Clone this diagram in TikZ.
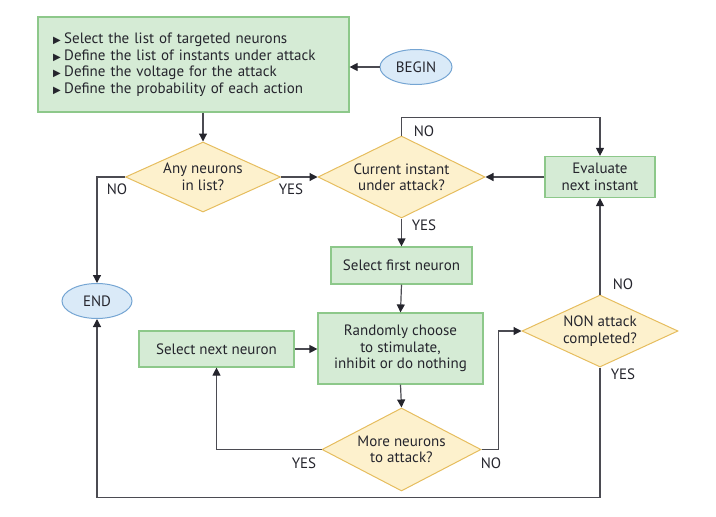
\documentclass[tikz,border=0pt]{standalone}
\usepackage{fontspec}
\setmainfont{PT Sans}
\newfontfamily\simboli{DejaVu Sans}
\usepackage{tikz}
\usetikzlibrary{shapes.geometric, arrows.meta}
\usepackage{xcolor}
\definecolor{greenFill}{HTML}{D5EBD5}
\definecolor{greenLine}{HTML}{8DC88A}
\definecolor{yellowFill}{HTML}{FDF1CD}
\definecolor{yellowLine}{HTML}{E6BD5E}
\definecolor{blueFill}{HTML}{DAEAF8}
\definecolor{blueLine}{HTML}{75A5D3}
\definecolor{wire}{HTML}{4B4B52}
\definecolor{ink}{HTML}{25252D}
\newcommand{\listMark}{{\simboli\fontsize{10}{10}\selectfont ▶}\hspace{3.5pt}}

\begin{document}
\begin{tikzpicture}[x = 1pt, y = -1pt,
    font = \fontsize{15}{16.5}\selectfont, text = ink,
    box/.style = {draw = greenLine, fill = greenFill, line width = 1.2pt, inner sep = 0pt, align = center},
    choice/.style = {diamond, draw = yellowLine, fill = yellowFill, line width = 1pt, inner sep = 0pt, aspect = 2, align = center},
    terminal/.style = {ellipse, draw = blueLine, fill = blueFill, line width = 1pt, inner sep = 0pt},
    freccia/.style = {draw = wire, line width = 1.2pt, -{Triangle[length = 8pt, width = 8pt, color = ink]}},
    tag/.style = {inner sep = 0pt}]
    \useasboundingbox (0,0) rectangle (716,517);
    % blocchi
    \node[box, align = left, text width = 281pt, inner xsep = 15pt, minimum height = 95pt] (setup) at (193.5,64.5)
        {\listMark Select the list of targeted neurons\\
         \listMark Define the list of instants under attack\\
         \listMark Define the voltage for the attack\\
         \listMark Define the probability of each action};
    \node[terminal, minimum width = 72pt, minimum height = 35pt] (begin) at (416,67) {BEGIN};
    \node[terminal, minimum width = 70pt, minimum height = 35pt] (end) at (97,301) {END};
    \node[choice, minimum width = 155pt, minimum height = 70pt] (any) at (203,177) {Any neurons\\in list?};
    \node[choice, minimum width = 167pt, minimum height = 82pt] (current) at (401.5,177) {Current instant\\under attack?};
    \node[box, minimum width = 110pt, minimum height = 41pt] (evaluate) at (600,177) {Evaluate\\next instant};
    \node[box, minimum width = 141pt, minimum height = 37pt] (sfirst) at (401.5,265.5) {Select first neuron};
    \node[box, minimum width = 165pt, minimum height = 71pt] (rand) at (400.5,348.5) {Randomly choose\\to stimulate,\\inhibit or do nothing};
    \node[box, minimum width = 155pt, minimum height = 36pt] (snext) at (216.5,349) {Select next neuron};
    \node[choice, minimum width = 159pt, minimum height = 83pt] (more) at (401.5,449.5) {More neurons\\to attack?};
    \node[choice, minimum width = 156pt, minimum height = 72pt] (non) at (600,331) {NON attack\\completed?};
    % collegamenti
    \draw[freccia] (begin.west) -- (begin.west -| setup.east);
    \draw[freccia] (setup.south -| any.north) -- (any.north);
    \draw[freccia] (any.east) -- (current.west);
    \draw[freccia] (any.west) -| (end.north);
    \draw[freccia] (evaluate.west) -- (current.east);
    \draw[freccia] (current.north) -- ++(0,-18) -| (evaluate.north);
    \draw[freccia] (current.south) -- (sfirst.north);
    \draw[freccia] (sfirst.south) -- (rand.north);
    \draw[freccia] (snext.east) -- (snext.east -| rand.west);
    \draw[freccia] (rand.south) -- (more.north);
    \draw[freccia] (more.west) -| (snext.south);
    \draw[freccia] (more.east) -- ++(17,0) |- (non.west);
    \draw[freccia] (non.north) -- (evaluate.south);
    \draw[freccia] (non.south) -- ++(0,130) -| (end.south);
    % etichette
    \node[tag] (noA) at (117,189) {NO};
    \node[tag] (yesA) at (291,189) {YES};
    \node[tag] (noC) at (424,131) {NO};
    \node[tag] (yesC) at (424,225) {YES};
    \node[tag] (yesM) at (304,463) {YES};
    \node[tag] (noM) at (491,463) {NO};
    \node[tag] (noN) at (623,284) {NO};
    \node[tag] (yesN) at (623,374) {YES};
\end{tikzpicture}
\end{document}
